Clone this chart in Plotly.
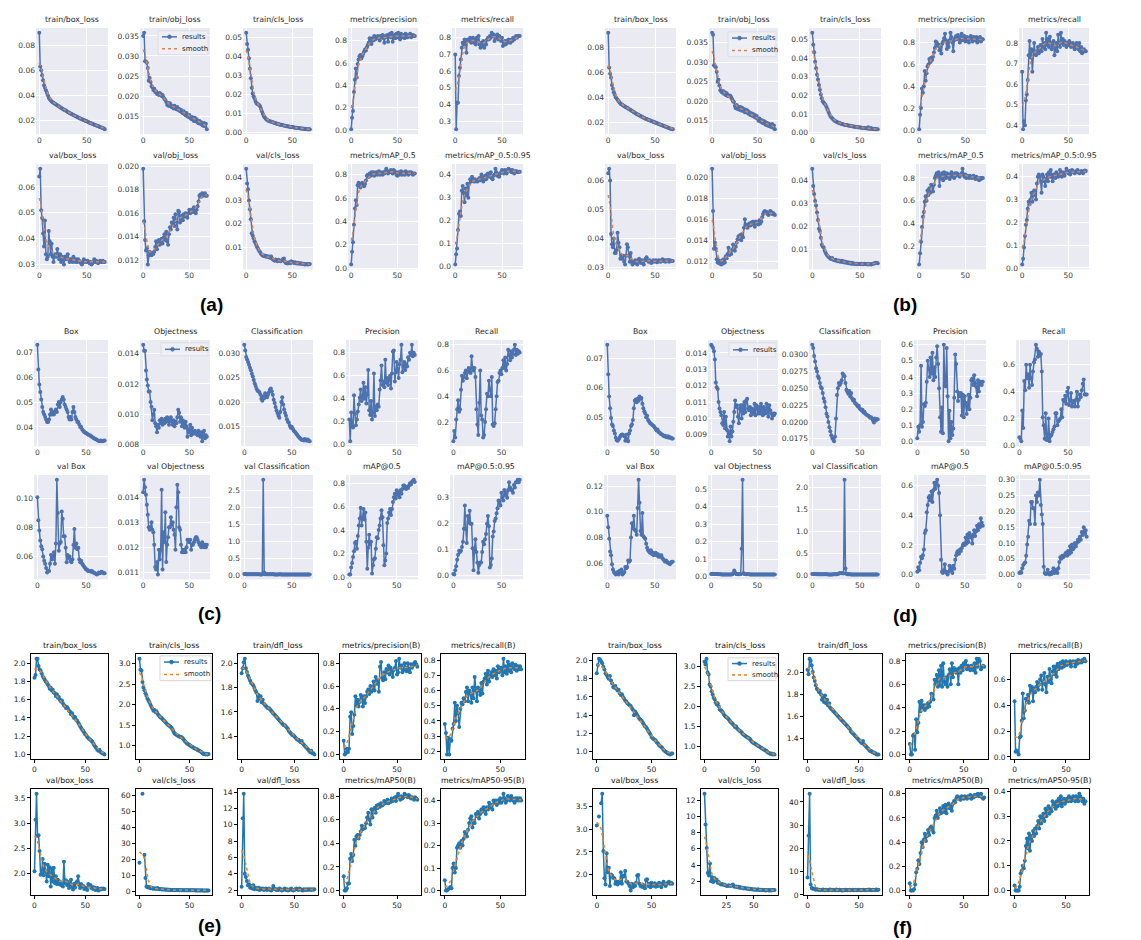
import numpy as np
import plotly.graph_objects as go

nan = float("nan")
W, H = 1141, 940

# ---------------- titles ----------------
TITLES_AB = ["train/box_loss", "train/obj_loss", "train/cls_loss", "metrics/precision", "metrics/recall",
             "val/box_loss", "val/obj_loss", "val/cls_loss", "metrics/mAP_0.5", "metrics/mAP_0.5:0.95"]
TITLES_CD = ["Box", "Objectness", "Classification", "Precision", "Recall",
             "val Box", "val Objectness", "val Classification", "mAP@0.5", "mAP@0.5:0.95"]
TITLES_EF = ["train/box_loss", "train/cls_loss", "train/dfl_loss", "metrics/precision(B)", "metrics/recall(B)",
             "val/box_loss", "val/cls_loss", "val/dfl_loss", "metrics/mAP50(B)", "metrics/mAP50-95(B)"]

# ---------------- panel (a) ----------------
A_train_box = [0.090,0.063,0.060,0.056,0.052,0.048,0.046,0.044,0.042,0.040,
0.038,0.037,0.036,0.035,0.0345,0.034,0.0335,0.033,0.0325,0.032,
0.0315,0.031,0.0305,0.030,0.0295,0.029,0.0285,0.028,0.0278,0.0272,
0.0267,0.0262,0.0258,0.0254,0.025,0.0246,0.0242,0.0238,0.0234,0.023,
0.0226,0.0222,0.0218,0.0215,0.0212,0.0208,0.0205,0.0202,0.0198,0.0195,
0.0192,0.0188,0.0185,0.0181,0.0178,0.0175,0.0172,0.0168,0.0165,0.0162,
0.0159,0.0156,0.0153,0.015,0.0147,0.0144,0.0141,0.0138,0.0135,0.0128]
A_train_obj = [0.0350,0.0358,0.0287,0.0286,0.0283,0.0270,0.0238,0.0245,0.0235,0.0225,
0.0222,0.0215,0.0218,0.0210,0.0212,0.0205,0.0207,0.0203,0.0208,0.0205,
0.0200,0.0203,0.0197,0.0193,0.0190,0.0185,0.0178,0.0183,0.0175,0.0182,
0.0178,0.0172,0.0175,0.0169,0.0176,0.0170,0.0167,0.0173,0.0165,0.0168,
0.0162,0.0166,0.0160,0.0157,0.0162,0.0155,0.0152,0.0158,0.0150,0.0148,
0.0153,0.0146,0.0143,0.0148,0.0141,0.0138,0.0146,0.0137,0.0142,0.0134,
0.0132,0.0138,0.0131,0.0135,0.0128,0.0126,0.0133,0.0125,0.0131,0.0117]
A_train_cls = [0.0525,0.0465,0.0435,0.0390,0.0335,0.0285,0.0235,0.0205,0.0190,0.0180,
0.0165,0.0155,0.0150,0.0148,0.0145,0.0138,0.0125,0.0112,0.0098,0.0088,
0.0080,0.0073,0.0068,0.0065,0.0062,0.0060,0.0058,0.0057,0.0055,0.0053,
0.0051,0.0050,0.0048,0.0046,0.0045,0.0044,0.0042,0.0041,0.0040,0.0039,
0.0038,0.0036,0.0035,0.0034,0.0033,0.0032,0.0031,0.0030,0.0029,0.0028,
0.0028,0.0027,0.0026,0.0025,0.0025,0.0024,0.0023,0.0023,0.0022,0.0021,
0.0021,0.0020,0.0019,0.0019,0.0018,0.0018,0.0017,0.0017,0.0016,0.0016]
A_precision = [0.005,0.11,0.17,0.34,0.45,0.55,0.47,0.59,0.63,0.66,
0.67,0.64,0.66,0.68,0.70,0.72,0.71,0.74,0.76,0.78,
0.82,0.80,0.77,0.82,0.80,0.84,0.81,0.83,0.82,0.84,
0.83,0.80,0.84,0.83,0.85,0.82,0.78,0.84,0.83,0.85,
0.79,0.84,0.86,0.83,0.87,0.79,0.84,0.85,0.82,0.86,
0.83,0.87,0.84,0.81,0.86,0.83,0.85,0.84,0.82,0.86,
0.84,0.83,0.85,0.84,0.86,0.83,0.84,0.85,0.84,0.84]
A_recall = [0.70,0.25,0.41,0.41,0.57,0.62,0.67,0.74,0.77,0.76,
0.79,0.78,0.71,0.79,0.78,0.79,0.80,0.77,0.78,0.80,
0.77,0.79,0.76,0.80,0.78,0.81,0.76,0.74,0.77,0.75,
0.78,0.74,0.77,0.76,0.79,0.80,0.79,0.81,0.80,0.83,
0.81,0.82,0.78,0.81,0.80,0.82,0.79,0.81,0.80,0.78,
0.80,0.75,0.77,0.78,0.76,0.78,0.77,0.79,0.78,0.77,
0.79,0.78,0.80,0.79,0.80,0.81,0.80,0.81,0.81,0.81]
A_val_box = [0.064,0.067,0.051,0.048,0.042,0.037,0.047,0.034,0.032,0.033,
0.043,0.039,0.034,0.038,0.033,0.031,0.033,0.034,0.033,0.036,
0.034,0.032,0.034,0.031,0.033,0.032,0.030,0.033,0.032,0.033,
0.034,0.032,0.031,0.032,0.032,0.031,0.033,0.032,0.031,0.032,
0.031,0.032,0.0315,0.031,0.0305,0.030,0.031,0.032,0.031,0.0315,
0.031,0.0315,0.031,0.0305,0.031,0.030,0.0305,0.031,0.032,0.031,
0.0315,0.031,0.0305,0.031,0.0315,0.031,0.031,0.0315,0.031,0.031]
A_val_obj = [0.0198,0.0153,0.0137,0.0128,0.0130,0.0116,0.0124,0.0127,0.0126,0.0124,
0.0126,0.0125,0.0127,0.0131,0.0136,0.0129,0.0135,0.0137,0.0133,0.0136,
0.0138,0.0134,0.0139,0.0142,0.0137,0.0144,0.0136,0.0133,0.0142,0.0148,
0.0146,0.0152,0.0150,0.0156,0.0149,0.0159,0.0153,0.0146,0.0162,0.0161,
0.0152,0.0156,0.0158,0.0154,0.0159,0.0157,0.0160,0.0158,0.0156,0.0160,
0.0163,0.0160,0.0161,0.0163,0.0161,0.0165,0.0162,0.0160,0.0163,0.0166,
0.0170,0.0175,0.0176,0.0174,0.0177,0.0175,0.0176,0.0177,0.0175,0.0175]
A_val_cls = [0.0435,0.0372,0.0348,0.0300,0.0262,0.0220,0.0160,0.0150,0.0138,0.0125,
0.0118,0.0110,0.0100,0.0092,0.0085,0.0080,0.0072,0.0068,0.0065,0.0063,
0.0065,0.0060,0.0062,0.0058,0.0060,0.0057,0.0055,0.0060,0.0052,0.0048,
0.0045,0.0042,0.0048,0.0044,0.0040,0.0046,0.0043,0.0040,0.0042,0.0044,
0.0050,0.0052,0.0038,0.0033,0.0035,0.0030,0.0034,0.0036,0.0032,0.0040,
0.0037,0.0035,0.0033,0.0036,0.0032,0.0030,0.0034,0.0031,0.0029,0.0032,
0.0030,0.0028,0.0029,0.0027,0.0026,0.0028,0.0027,0.0026,0.0028,0.0028]
A_map50 = [0.03,0.14,0.22,0.37,0.51,0.58,0.54,0.71,0.73,0.72,
0.69,0.71,0.73,0.72,0.70,0.72,0.75,0.79,0.80,0.78,
0.81,0.79,0.82,0.80,0.82,0.79,0.81,0.82,0.80,0.81,
0.83,0.80,0.82,0.81,0.80,0.82,0.81,0.83,0.85,0.82,
0.81,0.83,0.82,0.84,0.83,0.81,0.84,0.83,0.82,0.80,
0.79,0.82,0.80,0.81,0.83,0.80,0.82,0.81,0.80,0.83,
0.82,0.81,0.80,0.82,0.81,0.82,0.81,0.80,0.81,0.81]
A_map5095 = [0.010,0.055,0.080,0.160,0.230,0.240,0.220,0.330,0.350,0.320,
0.280,0.340,0.310,0.360,0.300,0.360,0.380,0.370,0.390,0.380,
0.370,0.380,0.370,0.375,0.370,0.380,0.385,0.375,0.400,0.390,
0.370,0.385,0.395,0.380,0.400,0.405,0.390,0.395,0.410,0.385,
0.380,0.395,0.400,0.425,0.410,0.395,0.400,0.390,0.405,0.410,
0.420,0.415,0.405,0.420,0.410,0.405,0.420,0.425,0.415,0.420,
0.410,0.420,0.415,0.405,0.410,0.415,0.410,0.412,0.410,0.412]

# ---------------- panel (b) ----------------
B_train_box = [0.092,0.064,0.059,0.056,0.050,0.047,0.044,0.042,0.040,0.039,
0.038,0.037,0.036,0.035,0.0345,0.034,0.0335,0.033,0.0325,0.032,
0.0316,0.0312,0.0307,0.0302,0.0297,0.0292,0.0287,0.0282,0.0277,0.0272,
0.0268,0.0264,0.026,0.0256,0.0252,0.0248,0.0244,0.024,0.0236,0.0232,
0.0228,0.0225,0.0222,0.0219,0.0216,0.0213,0.021,0.0207,0.0204,0.0201,
0.0198,0.0195,0.0192,0.0189,0.0186,0.0183,0.018,0.0177,0.0174,0.0171,
0.0168,0.0165,0.0162,0.0159,0.0156,0.0153,0.015,0.0147,0.0145,0.0142]
B_train_obj = [0.0375,0.0370,0.0292,0.0290,0.0287,0.0275,0.0250,0.0255,0.0240,0.0228,
0.0225,0.0222,0.0226,0.0219,0.0223,0.0216,0.0220,0.0213,0.0215,0.0212,
0.0214,0.0210,0.0205,0.0200,0.0198,0.0188,0.0182,0.0190,0.0180,0.0186,
0.0178,0.0185,0.0176,0.0183,0.0175,0.0180,0.0172,0.0178,0.0171,0.0176,
0.0168,0.0172,0.0165,0.0169,0.0163,0.0167,0.0160,0.0165,0.0158,0.0162,
0.0155,0.0150,0.0156,0.0148,0.0152,0.0145,0.0150,0.0143,0.0148,0.0140,
0.0145,0.0138,0.0143,0.0136,0.0140,0.0134,0.0142,0.0132,0.0138,0.0128]
B_train_cls = [0.0535,0.0470,0.0430,0.0380,0.0345,0.0310,0.0285,0.0255,0.0230,0.0205,
0.0185,0.0168,0.0160,0.0155,0.0148,0.0138,0.0125,0.0112,0.0100,0.0090,
0.0083,0.0077,0.0072,0.0067,0.0063,0.0060,0.0058,0.0055,0.0053,0.0051,
0.0049,0.0047,0.0046,0.0044,0.0043,0.0042,0.0041,0.0040,0.0039,0.0038,
0.0037,0.0036,0.0035,0.0034,0.0033,0.0032,0.0031,0.0031,0.0030,0.0029,
0.0028,0.0028,0.0027,0.0026,0.0026,0.0025,0.0024,0.0024,0.0023,0.0030,
0.0022,0.0021,0.0026,0.0020,0.0020,0.0019,0.0022,0.0018,0.0019,0.0018]
B_precision = [0.005,0.14,0.20,0.38,0.34,0.40,0.54,0.45,0.52,0.58,
0.60,0.65,0.62,0.66,0.64,0.67,0.71,0.75,0.81,0.80,
0.77,0.78,0.73,0.76,0.70,0.79,0.81,0.84,0.88,0.82,
0.74,0.80,0.76,0.82,0.89,0.85,0.80,0.72,0.82,0.84,
0.86,0.83,0.87,0.84,0.80,0.85,0.88,0.82,0.84,0.86,
0.81,0.83,0.85,0.82,0.80,0.84,0.86,0.83,0.81,0.85,
0.84,0.82,0.85,0.80,0.84,0.82,0.85,0.81,0.83,0.83]
B_recall = [0.66,0.38,0.42,0.40,0.52,0.55,0.62,0.74,0.81,0.73,
0.77,0.66,0.76,0.80,0.75,0.74,0.76,0.78,0.75,0.77,
0.79,0.76,0.82,0.78,0.80,0.77,0.85,0.79,0.82,0.78,
0.83,0.80,0.77,0.79,0.81,0.74,0.78,0.80,0.76,0.84,
0.80,0.78,0.85,0.80,0.82,0.79,0.81,0.80,0.78,0.80,
0.79,0.81,0.80,0.78,0.79,0.80,0.78,0.77,0.79,0.80,
0.78,0.77,0.80,0.76,0.78,0.75,0.76,0.77,0.76,0.76]
B_val_box = [0.0625,0.0640,0.0600,0.0415,0.0380,0.0370,0.0400,0.0350,0.0350,0.0360,
0.0420,0.0385,0.0370,0.0330,0.0340,0.0330,0.0340,0.0320,0.0310,0.0340,
0.0380,0.0370,0.0340,0.0320,0.0350,0.0320,0.0310,0.0320,0.0315,0.0325,
0.0320,0.0310,0.0325,0.0330,0.0320,0.0315,0.0325,0.0320,0.0310,0.0325,
0.0330,0.0335,0.0325,0.0320,0.0325,0.0320,0.0315,0.0320,0.0325,0.0320,
0.0322,0.0325,0.0318,0.0320,0.0325,0.0322,0.0320,0.0325,0.0328,0.0322,
0.0325,0.0320,0.0325,0.0322,0.0326,0.0320,0.0325,0.0323,0.0322,0.0322]
B_val_obj = [0.0208,0.0168,0.0132,0.0138,0.0132,0.0122,0.0119,0.0121,0.0118,0.0120,
0.0117,0.0121,0.0118,0.0122,0.0119,0.0125,0.0123,0.0127,0.0133,0.0126,
0.0128,0.0127,0.0131,0.0136,0.0133,0.0130,0.0134,0.0138,0.0141,0.0144,
0.0142,0.0145,0.0140,0.0146,0.0143,0.0152,0.0160,0.0155,0.0153,0.0152,
0.0155,0.0156,0.0154,0.0157,0.0155,0.0158,0.0157,0.0153,0.0158,0.0156,
0.0157,0.0155,0.0159,0.0156,0.0158,0.0162,0.0165,0.0167,0.0168,0.0166,
0.0167,0.0165,0.0164,0.0166,0.0168,0.0167,0.0165,0.0166,0.0165,0.0164]
B_val_cls = [0.0450,0.0375,0.0340,0.0310,0.0290,0.0260,0.0228,0.0190,0.0180,0.0150,
0.0120,0.0112,0.0108,0.0095,0.0085,0.0078,0.0072,0.0068,0.0065,0.0060,
0.0058,0.0062,0.0056,0.0054,0.0052,0.0055,0.0050,0.0048,0.0052,0.0047,
0.0046,0.0050,0.0045,0.0048,0.0043,0.0046,0.0042,0.0044,0.0040,0.0043,
0.0040,0.0038,0.0042,0.0037,0.0039,0.0036,0.0038,0.0035,0.0037,0.0036,
0.0038,0.0035,0.0037,0.0036,0.0035,0.0037,0.0036,0.0035,0.0036,0.0034,
0.0036,0.0035,0.0034,0.0036,0.0037,0.0039,0.0040,0.0042,0.0041,0.0040]
B_map50 = [0.04,0.14,0.24,0.37,0.46,0.50,0.59,0.64,0.60,0.69,
0.65,0.71,0.67,0.74,0.72,0.68,0.74,0.80,0.82,0.84,
0.81,0.85,0.73,0.82,0.80,0.84,0.78,0.85,0.82,0.80,
0.84,0.81,0.83,0.79,0.82,0.85,0.81,0.83,0.80,0.84,
0.82,0.84,0.83,0.82,0.81,0.83,0.84,0.88,0.83,0.81,
0.83,0.80,0.82,0.81,0.80,0.82,0.81,0.80,0.81,0.82,
0.80,0.79,0.81,0.80,0.79,0.78,0.80,0.79,0.80,0.80]
B_map5095 = [0.015,0.040,0.090,0.140,0.190,0.210,0.260,0.290,0.280,0.300,
0.330,0.290,0.330,0.340,0.320,0.300,0.370,0.400,0.410,0.400,
0.380,0.330,0.410,0.400,0.380,0.360,0.390,0.410,0.380,0.420,
0.400,0.430,0.400,0.380,0.410,0.400,0.395,0.420,0.410,0.400,
0.405,0.430,0.410,0.400,0.420,0.410,0.405,0.420,0.435,0.420,
0.415,0.425,0.410,0.420,0.430,0.425,0.420,0.415,0.420,0.425,
0.430,0.420,0.415,0.420,0.425,0.420,0.415,0.425,0.428,0.425]

# ---------------- panel (c) ----------------
C_box = [0.073,0.063,0.057,0.054,0.051,0.048,0.046,0.045,0.044,0.043,
0.042,0.042,0.043,0.045,0.047,0.045,0.046,0.045,0.046,0.047,
0.046,0.049,0.050,0.048,0.050,0.051,0.052,0.051,0.049,0.048,
0.047,0.046,0.044,0.043,0.044,0.043,0.046,0.048,0.046,0.044,
0.043,0.042,0.042,0.041,0.040,0.040,0.039,0.0385,0.038,0.0378,
0.0375,0.0373,0.037,0.0368,0.0366,0.0364,0.036,0.0358,0.0355,0.0352,
0.035,0.0348,0.0345,0.0343,0.0342,0.0345,0.0343,0.0342,0.0344,0.0345]
C_obj = [0.0146,0.0142,0.0142,0.0129,0.0123,0.0119,0.0115,0.0115,0.0108,0.0105,
0.0096,0.0100,0.0103,0.0094,0.0092,0.0088,0.0093,0.0091,0.0096,0.0094,
0.0097,0.0093,0.0096,0.0094,0.0097,0.0095,0.0098,0.0096,0.0093,0.0097,
0.0098,0.0095,0.0093,0.0096,0.0092,0.0095,0.0094,0.0098,0.0103,0.0101,
0.0095,0.0098,0.0092,0.0096,0.0093,0.0091,0.0095,0.0092,0.0085,0.0090,
0.0088,0.0093,0.0086,0.0091,0.0087,0.0088,0.0089,0.0087,0.0088,0.0086,
0.0089,0.0087,0.0085,0.0088,0.0082,0.0086,0.0089,0.0084,0.0086,0.0085]
C_cls = [0.0317,0.0305,0.0292,0.0287,0.0282,0.0276,0.0270,0.0265,0.0258,0.0252,
0.0245,0.0238,0.0233,0.0227,0.0223,0.0222,0.0220,0.0215,0.0207,0.0203,
0.0212,0.0208,0.0218,0.0214,0.0210,0.0215,0.0220,0.0225,0.0228,0.0222,
0.0215,0.0205,0.0198,0.0190,0.0183,0.0178,0.0172,0.0168,0.0180,0.0200,
0.0210,0.0195,0.0185,0.0178,0.0172,0.0165,0.0160,0.0158,0.0152,0.0148,
0.0150,0.0146,0.0142,0.0140,0.0138,0.0135,0.0133,0.0130,0.0128,0.0126,
0.0124,0.0123,0.0124,0.0122,0.0125,0.0123,0.0121,0.0124,0.0121,0.0120]
C_precision = [0.22,0.03,0.28,0.16,0.15,0.43,0.27,0.17,0.22,0.29,
0.35,0.41,0.48,0.38,0.42,0.54,0.40,0.50,0.36,0.44,
0.65,0.30,0.26,0.38,0.22,0.28,0.62,0.25,0.33,0.30,
0.35,0.33,0.48,0.56,0.69,0.52,0.55,0.50,0.74,0.54,
0.58,0.52,0.57,0.60,0.49,0.62,0.81,0.82,0.55,0.63,
0.72,0.66,0.58,0.70,0.74,0.87,0.63,0.68,0.72,0.65,
0.70,0.68,0.76,0.74,0.80,0.78,0.87,0.77,0.80,0.78]
C_recall = [0.05,0.13,0.08,0.22,0.30,0.37,0.28,0.30,0.45,0.56,
0.52,0.55,0.58,0.60,0.54,0.59,0.62,0.60,0.58,0.71,
0.62,0.60,0.62,0.55,0.30,0.18,0.10,0.35,0.60,0.25,
0.22,0.08,0.10,0.20,0.30,0.42,0.40,0.52,0.45,0.40,
0.55,0.18,0.17,0.19,0.30,0.40,0.51,0.52,0.58,0.60,
0.57,0.62,0.68,0.62,0.70,0.60,0.65,0.76,0.72,0.68,
0.75,0.70,0.73,0.76,0.80,0.72,0.76,0.73,0.75,0.74]
C_val_box = [0.101,0.085,0.078,0.071,0.067,0.065,0.060,0.057,0.055,0.052,
0.049,0.050,0.050,0.055,0.061,0.058,0.060,0.063,0.055,0.069,
0.113,0.090,0.064,0.069,0.070,0.091,0.086,0.074,0.074,0.066,
0.056,0.061,0.059,0.060,0.057,0.056,0.058,0.068,0.079,0.066,
0.069,0.065,0.066,0.058,0.056,0.057,0.055,0.054,0.053,0.052,
0.051,0.051,0.050,0.050,0.050,0.0495,0.050,0.049,0.049,0.0485,
0.048,0.0475,0.048,0.049,0.0485,0.049,0.0495,0.049,0.0485,0.0485]
C_val_obj = [0.0142,0.0147,0.0144,0.0141,0.0137,0.0133,0.0128,0.0127,0.0128,0.0130,
0.0127,0.0126,0.0121,0.0112,0.0111,0.0114,0.0109,0.0119,0.0115,0.0119,
0.0143,0.0111,0.0126,0.0122,0.0134,0.0114,0.0121,0.0124,0.0128,0.0128,
0.0132,0.0129,0.0130,0.0127,0.0125,0.0119,0.0136,0.0145,0.0142,0.0128,
0.0127,0.0121,0.0118,0.0119,0.0118,0.0119,0.0118,0.0120,0.0123,0.0123,
0.0122,0.0123,0.0119,0.0121,0.0121,0.0122,0.0123,0.0124,0.0124,0.0123,
0.0122,0.0121,0.0121,0.0120,0.0122,0.0121,0.0120,0.0121,0.0120,0.0121]
C_val_cls = [0.035,0.032,0.030,0.030,0.029,0.028,0.028,0.027,0.027,0.026,
0.026,0.025,0.025,0.025,0.024,0.024,0.024,0.023,0.023,0.025,
2.82,0.080,0.030,0.028,0.027,0.026,0.026,0.025,0.025,0.024,
0.024,0.024,0.023,0.023,0.023,0.022,0.022,0.030,0.028,0.022,
0.022,0.021,0.021,0.021,0.020,0.020,0.020,0.020,0.020,0.019,
0.019,0.019,0.019,0.019,0.018,0.018,0.018,0.018,0.018,0.018,
0.018,0.017,0.017,0.017,0.017,0.017,0.017,0.017,0.017,0.017]
C_map50 = [0.02,0.02,0.08,0.12,0.17,0.22,0.29,0.30,0.24,0.35,
0.44,0.50,0.59,0.44,0.51,0.58,0.49,0.55,0.30,0.07,
0.25,0.36,0.28,0.30,0.03,0.10,0.15,0.16,0.24,0.34,
0.33,0.40,0.44,0.50,0.57,0.51,0.27,0.10,0.14,0.20,
0.46,0.50,0.55,0.58,0.53,0.58,0.64,0.68,0.71,0.67,
0.74,0.70,0.72,0.68,0.74,0.71,0.75,0.78,0.78,0.76,
0.75,0.77,0.76,0.78,0.80,0.79,0.81,0.82,0.83,0.81]
C_map5095 = [0.005,0.003,0.020,0.035,0.060,0.080,0.095,0.090,0.095,0.110,
0.130,0.180,0.270,0.180,0.125,0.230,0.205,0.250,0.200,0.200,
0.105,0.020,0.100,0.140,0.090,0.050,0.010,0.040,0.050,0.050,
0.090,0.130,0.120,0.140,0.160,0.200,0.230,0.190,0.030,0.040,
0.065,0.150,0.170,0.210,0.220,0.240,0.260,0.290,0.280,0.270,
0.320,0.300,0.290,0.330,0.310,0.320,0.300,0.330,0.360,0.340,
0.330,0.330,0.320,0.350,0.340,0.360,0.360,0.370,0.360,0.370]

# ---------------- panel (d) ----------------
D_box = [0.0745,0.0645,0.0570,0.0530,0.0497,0.0475,0.0470,0.0455,0.0445,0.0430,
0.0422,0.0420,0.0425,0.0430,0.0437,0.0440,0.0441,0.0438,0.0435,0.0420,
0.0440,0.0425,0.0418,0.0445,0.0455,0.0470,0.0475,0.0490,0.0530,0.0555,
0.0560,0.0550,0.0562,0.0555,0.0570,0.0562,0.0565,0.0545,0.0530,0.0520,
0.0512,0.0500,0.0505,0.0490,0.0485,0.0480,0.0478,0.0475,0.0472,0.0470,
0.0465,0.0460,0.0455,0.0458,0.0450,0.0448,0.0445,0.0442,0.0440,0.0438,
0.0435,0.0437,0.0433,0.0432,0.0435,0.0430,0.0432,0.0430,0.0428,0.0428]
D_obj = [0.0145,0.0144,0.0143,0.0141,0.0136,0.0122,0.0119,0.0118,0.0110,0.0106,
0.0104,0.0102,0.0097,0.0096,0.0104,0.0094,0.0101,0.0093,0.0089,0.0092,
0.0086,0.0095,0.0089,0.0092,0.0098,0.0104,0.0111,0.0107,0.0108,0.0101,
0.0097,0.0106,0.0108,0.0100,0.0108,0.0103,0.0110,0.0104,0.0111,0.0112,
0.0106,0.0105,0.0107,0.0102,0.0106,0.0105,0.0103,0.0109,0.0102,0.0108,
0.0106,0.0103,0.0107,0.0103,0.0109,0.0105,0.0102,0.0107,0.0104,0.0103,
0.0109,0.0106,0.0101,0.0108,0.0105,0.0103,0.0100,0.0103,0.0102,0.0103]
D_cls = [0.0315,0.0310,0.0298,0.0290,0.0280,0.0275,0.0268,0.0265,0.0258,0.0252,
0.0250,0.0243,0.0235,0.0230,0.0222,0.0212,0.0208,0.0200,0.0192,0.0186,
0.0180,0.0176,0.0174,0.0171,0.0178,0.0205,0.0240,0.0250,0.0258,0.0255,
0.0258,0.0262,0.0272,0.0270,0.0268,0.0258,0.0248,0.0245,0.0242,0.0246,
0.0238,0.0243,0.0235,0.0232,0.0233,0.0228,0.0227,0.0225,0.0223,0.0224,
0.0220,0.0219,0.0217,0.0218,0.0214,0.0215,0.0212,0.0211,0.0210,0.0209,
0.0208,0.0206,0.0207,0.0205,0.0202,0.0199,0.0205,0.0202,0.0204,0.0204]
D_precision = [0.02,0.09,0.06,0.10,0.47,0.09,0.12,0.23,0.22,0.24,
0.37,0.50,0.45,0.40,0.52,0.42,0.55,0.38,0.46,0.40,
0.52,0.59,0.48,0.33,0.15,0.06,0.21,0.05,0.60,0.35,
0.34,0.58,0.28,0.00,0.19,0.02,0.12,0.04,0.08,0.27,
0.54,0.48,0.31,0.25,0.30,0.28,0.30,0.16,0.29,0.15,
0.28,0.24,0.17,0.22,0.29,0.20,0.27,0.38,0.39,0.35,
0.41,0.36,0.34,0.28,0.38,0.31,0.36,0.37,0.35,0.37]
D_recall = [0.06,0.05,0.03,0.26,0.13,0.48,0.41,0.60,0.50,0.53,
0.43,0.60,0.50,0.45,0.55,0.62,0.64,0.75,0.72,0.66,
0.70,0.67,0.68,0.55,0.21,0.15,0.05,0.24,0.04,0.05,
0.20,0.03,0.07,0.08,0.10,0.12,0.14,0.24,0.24,0.15,
0.18,0.19,0.20,0.27,0.21,0.34,0.33,0.37,0.31,0.40,
0.43,0.30,0.33,0.39,0.29,0.33,0.32,0.29,0.34,0.40,
0.29,0.34,0.38,0.36,0.41,0.46,0.49,0.38,0.38,0.38]
D_val_box = [0.097,0.088,0.079,0.069,0.066,0.059,0.055,0.053,0.052,0.051,
0.052,0.053,0.051,0.054,0.053,0.055,0.051,0.052,0.053,0.057,
0.056,0.057,0.062,0.061,0.062,0.080,0.091,0.087,0.097,0.086,
0.085,0.082,0.103,0.125,0.107,0.085,0.082,0.099,0.081,0.080,
0.079,0.075,0.072,0.070,0.069,0.068,0.070,0.067,0.068,0.066,
0.067,0.068,0.066,0.067,0.065,0.066,0.065,0.066,0.064,0.063,
0.062,0.061,0.062,0.061,0.060,0.060,0.059,0.060,0.061,0.061]
D_val_obj = [0.016,0.017,0.016,0.016,0.015,0.015,0.015,0.014,0.014,0.014,
0.014,0.013,0.013,0.013,0.013,0.013,0.013,0.013,0.013,0.013,
0.013,0.013,0.013,0.014,0.020,0.035,0.022,0.015,0.014,0.014,
0.014,0.014,0.014,0.160,0.555,0.020,0.015,0.014,0.014,0.014,
0.014,0.014,0.013,0.013,0.013,0.013,0.013,0.013,0.013,0.013,
0.013,0.013,0.013,0.013,0.012,0.012,0.012,0.012,0.012,0.012,
0.012,0.012,0.012,0.012,0.012,0.012,0.012,0.012,0.012,0.012]
D_val_cls = [0.035,0.034,0.033,0.032,0.031,0.030,0.030,0.029,0.029,0.028,
0.028,0.027,0.027,0.027,0.026,0.026,0.026,0.025,0.025,0.025,
0.025,0.025,0.026,0.026,0.027,0.028,0.030,0.035,0.045,0.050,
0.048,0.052,0.050,0.045,2.180,0.160,0.040,0.030,0.028,0.027,
0.026,0.025,0.025,0.025,0.024,0.024,0.024,0.024,0.023,0.023,
0.023,0.023,0.022,0.022,0.022,0.022,0.022,0.021,0.021,0.021,
0.021,0.021,0.021,0.020,0.020,0.020,0.020,0.020,0.020,0.020]
D_map50 = [0.02,0.05,0.03,0.08,0.12,0.11,0.13,0.17,0.28,0.30,
0.42,0.47,0.52,0.53,0.50,0.56,0.49,0.57,0.62,0.58,
0.62,0.64,0.60,0.55,0.40,0.10,0.02,0.01,0.03,0.07,
0.02,0.01,0.00,0.02,0.06,0.03,0.05,0.01,0.06,0.04,
0.10,0.13,0.15,0.16,0.14,0.17,0.16,0.18,0.20,0.21,
0.20,0.25,0.21,0.27,0.22,0.28,0.25,0.26,0.21,0.27,
0.30,0.26,0.29,0.33,0.30,0.34,0.32,0.38,0.35,0.33]
D_map5095 = [0.005,0.008,0.006,0.020,0.030,0.035,0.038,0.060,0.095,0.120,
0.170,0.160,0.230,0.230,0.210,0.210,0.160,0.250,0.230,0.260,
0.250,0.300,0.220,0.190,0.160,0.025,0.005,0.002,0.003,0.015,
0.005,0.000,0.005,0.002,0.010,0.020,0.005,0.010,0.015,0.005,
0.020,0.040,0.055,0.050,0.060,0.055,0.060,0.065,0.070,0.060,
0.075,0.065,0.090,0.070,0.095,0.080,0.085,0.100,0.090,0.100,
0.110,0.105,0.120,0.110,0.135,0.125,0.150,0.130,0.140,0.120]

# ---------------- panel (e) ----------------
E_train_box = [1.84,1.87,2.05,2.05,1.97,1.93,1.92,1.89,1.86,1.84,
1.82,1.80,1.79,1.77,1.75,1.72,1.73,1.70,1.71,1.68,
1.67,1.64,1.66,1.62,1.63,1.60,1.58,1.59,1.56,1.54,
1.53,1.51,1.52,1.50,1.48,1.47,1.44,1.45,1.42,1.40,
1.41,1.38,1.37,1.35,1.33,1.31,1.29,1.27,1.26,1.24,
1.22,1.21,1.19,1.18,1.17,1.16,1.15,1.14,1.12,1.10,
1.08,1.07,1.05,1.04,1.05,1.03,1.02,1.01,1.01,1.00]
E_train_cls = [3.12,2.85,2.83,2.55,2.42,2.35,2.28,2.22,2.15,2.10,
2.05,2.00,1.95,1.90,1.85,1.87,1.82,1.84,1.78,1.75,
1.72,1.69,1.68,1.65,1.62,1.60,1.57,1.55,1.52,1.50,
1.48,1.46,1.44,1.40,1.35,1.30,1.28,1.27,1.25,1.24,
1.22,1.22,1.21,1.19,1.16,1.12,1.10,1.07,1.05,1.03,
1.02,1.00,0.98,0.97,0.95,0.94,0.93,0.92,0.90,0.89,
0.87,0.86,0.84,0.82,0.80,0.81,0.79,0.80,0.79,0.80]
E_train_dfl = [1.92,1.96,2.01,2.04,1.96,1.93,1.90,1.88,1.86,1.84,
1.83,1.82,1.80,1.78,1.76,1.69,1.74,1.71,1.73,1.68,
1.70,1.67,1.66,1.65,1.64,1.63,1.63,1.62,1.61,1.60,
1.59,1.58,1.57,1.56,1.55,1.54,1.53,1.52,1.51,1.50,
1.49,1.49,1.48,1.47,1.46,1.44,1.43,1.42,1.41,1.41,
1.40,1.39,1.38,1.37,1.37,1.36,1.35,1.36,1.34,1.33,
1.32,1.31,1.30,1.29,1.28,1.27,1.28,1.26,1.26,1.25]
E_precision = [0.12,0.00,0.01,0.05,0.02,0.05,0.33,0.37,0.18,0.25,
0.35,0.51,0.43,0.48,0.42,0.46,0.52,0.50,0.42,0.51,
0.45,0.51,0.55,0.57,0.53,0.60,0.55,0.58,0.64,0.56,
0.68,0.62,0.65,0.55,0.77,0.81,0.67,0.65,0.72,0.66,
0.75,0.72,0.78,0.70,0.76,0.73,0.68,0.74,0.76,0.82,
0.70,0.72,0.84,0.76,0.78,0.72,0.74,0.80,0.76,0.73,
0.80,0.75,0.72,0.79,0.76,0.78,0.80,0.81,0.79,0.77]
E_recall = [0.38,0.32,0.18,0.29,0.18,0.28,0.27,0.35,0.38,0.52,
0.40,0.50,0.45,0.36,0.48,0.52,0.51,0.55,0.53,0.59,
0.62,0.53,0.60,0.58,0.52,0.62,0.55,0.69,0.60,0.53,
0.62,0.60,0.57,0.65,0.58,0.66,0.68,0.71,0.64,0.73,
0.66,0.70,0.72,0.69,0.74,0.70,0.73,0.68,0.76,0.72,
0.74,0.75,0.70,0.81,0.72,0.76,0.71,0.79,0.73,0.77,
0.72,0.78,0.75,0.74,0.77,0.73,0.76,0.74,0.76,0.74]
E_val_box = [2.05,3.07,3.58,2.75,2.76,2.45,1.98,2.00,2.29,1.97,
2.20,2.05,1.85,2.18,1.95,2.13,1.75,2.10,1.85,2.12,
1.82,1.95,1.80,1.88,1.80,1.85,1.78,1.80,1.75,2.24,
1.82,1.87,1.78,1.84,1.72,1.79,1.88,1.74,1.69,1.80,
1.73,1.82,1.85,1.95,1.78,1.72,1.80,1.75,1.76,1.70,
1.73,1.71,1.68,1.80,1.77,1.78,1.72,1.74,1.70,1.73,
1.68,1.70,1.72,1.67,1.70,1.69,1.71,1.70,1.71,1.70]
E_val_cls = [18.0,nan,nan,61.0,nan,23.0,8.5,3.2,2.8,2.6,
2.9,2.2,2.4,2.0,1.9,2.1,1.8,1.7,2.3,1.6,
1.5,1.6,1.4,1.5,1.3,1.4,1.3,1.2,1.3,1.2,
1.1,1.2,1.1,1.1,1.0,1.1,1.0,1.0,1.1,1.0,
0.95,1.0,0.95,0.9,0.95,0.9,0.9,0.95,0.9,0.9,
0.85,0.9,0.85,0.85,0.9,0.85,0.8,0.85,0.8,0.85,
0.8,0.8,0.85,0.8,0.8,0.8,0.75,0.8,0.8,0.8]
E_val_dfl = [2.4,10.8,13.8,4.0,3.6,3.1,2.6,2.7,2.3,2.5,
2.2,2.6,2.1,2.3,2.2,2.1,2.3,2.0,2.2,2.1,
2.2,2.0,2.1,2.2,2.0,2.1,2.2,2.0,1.95,2.1,
2.5,2.2,2.1,2.0,2.1,2.0,2.2,2.1,1.95,2.0,
2.1,2.2,2.0,2.1,1.95,2.0,2.1,2.2,2.0,1.95,
2.0,2.1,2.2,2.1,2.0,2.2,2.1,2.0,1.95,2.1,
2.0,2.1,2.0,2.1,2.05,2.1,2.0,2.1,2.05,2.1]
E_map50 = [0.12,0.00,0.00,0.02,0.06,0.06,0.27,0.31,0.25,0.30,
0.43,0.38,0.46,0.47,0.44,0.47,0.50,0.55,0.52,0.54,
0.53,0.57,0.62,0.66,0.60,0.56,0.69,0.62,0.68,0.70,
0.66,0.72,0.70,0.73,0.71,0.74,0.72,0.73,0.76,0.74,
0.75,0.77,0.74,0.76,0.75,0.78,0.76,0.77,0.79,0.76,
0.80,0.82,0.79,0.77,0.80,0.78,0.79,0.82,0.81,0.80,
0.79,0.81,0.80,0.78,0.79,0.78,0.77,0.79,0.78,0.77]
E_map5095 = [0.045,0.000,0.000,0.005,0.010,0.015,0.010,0.100,0.120,0.080,
0.100,0.190,0.200,0.210,0.190,0.220,0.200,0.230,0.260,0.250,
0.240,0.270,0.300,0.320,0.330,0.280,0.310,0.300,0.340,0.330,
0.350,0.320,0.340,0.360,0.350,0.370,0.360,0.340,0.370,0.360,
0.390,0.370,0.380,0.360,0.400,0.390,0.400,0.380,0.400,0.390,
0.410,0.390,0.400,0.430,0.410,0.390,0.400,0.420,0.410,0.400,
0.420,0.410,0.400,0.390,0.410,0.400,0.410,0.400,0.410,0.400]

# ---------------- panel (f) ----------------
F_train_box = [1.86,1.95,2.02,2.01,1.99,1.97,1.93,1.90,1.86,1.84,
1.82,1.80,1.83,1.78,1.75,1.71,1.70,1.72,1.69,1.67,
1.68,1.64,1.62,1.63,1.60,1.58,1.56,1.55,1.53,1.52,
1.51,1.50,1.48,1.46,1.40,1.44,1.42,1.40,1.38,1.36,
1.35,1.34,1.32,1.30,1.28,1.27,1.25,1.23,1.21,1.19,
1.16,1.15,1.14,1.13,1.12,1.10,1.09,1.07,1.06,1.05,
1.04,1.02,1.01,1.00,0.99,0.98,0.98,0.97,0.98,0.98]
F_train_cls = [3.12,3.05,3.20,2.85,2.80,2.55,2.50,2.38,2.30,2.22,
2.18,2.10,2.05,2.08,2.00,1.92,1.90,1.88,1.85,1.80,
1.76,1.74,1.72,1.70,1.67,1.63,1.60,1.58,1.55,1.52,
1.48,1.50,1.45,1.42,1.40,1.38,1.36,1.33,1.30,1.28,
1.26,1.24,1.22,1.21,1.19,1.17,1.13,1.10,1.08,1.07,
1.05,1.04,1.02,1.00,0.99,0.97,0.95,0.94,0.92,0.91,
0.89,0.88,0.85,0.83,0.82,0.80,0.81,0.79,0.80,0.79]
F_train_dfl = [2.02,1.98,2.12,2.10,2.06,2.00,1.95,1.92,1.88,1.85,
1.84,1.82,1.83,1.80,1.75,1.78,1.73,1.79,1.72,1.75,
1.70,1.72,1.68,1.67,1.66,1.65,1.64,1.63,1.62,1.61,
1.60,1.59,1.58,1.57,1.56,1.55,1.54,1.53,1.52,1.51,
1.50,1.49,1.47,1.46,1.45,1.44,1.43,1.42,1.41,1.40,
1.39,1.38,1.37,1.36,1.38,1.35,1.34,1.33,1.32,1.31,
1.30,1.29,1.29,1.28,1.28,1.27,1.27,1.26,1.26,1.26]
F_precision = [0.09,0.00,0.00,0.16,0.17,0.04,0.30,0.19,0.27,0.45,
0.37,0.46,0.40,0.42,0.38,0.42,0.40,0.44,0.41,0.45,
0.52,0.51,0.47,0.64,0.60,0.68,0.58,0.72,0.59,0.76,
0.58,0.78,0.62,0.60,0.66,0.58,0.68,0.73,0.60,0.78,
0.66,0.74,0.72,0.70,0.73,0.60,0.74,0.70,0.76,0.72,
0.78,0.75,0.80,0.73,0.76,0.74,0.72,0.76,0.74,0.72,
0.78,0.70,0.82,0.75,0.82,0.80,0.73,0.75,0.76,0.75]
F_recall = [0.43,0.04,0.05,0.04,0.02,0.15,0.16,0.28,0.49,0.30,
0.36,0.45,0.44,0.48,0.42,0.55,0.50,0.54,0.43,0.53,
0.50,0.54,0.58,0.52,0.56,0.60,0.63,0.52,0.58,0.65,
0.56,0.50,0.62,0.58,0.68,0.60,0.57,0.66,0.70,0.64,
0.70,0.62,0.72,0.68,0.70,0.73,0.69,0.74,0.70,0.72,
0.74,0.71,0.73,0.72,0.74,0.70,0.73,0.74,0.73,0.70,
0.74,0.72,0.75,0.73,0.74,0.73,0.75,0.74,0.76,0.74]
F_val_box = [3.08,nan,3.28,nan,3.57,3.78,2.52,1.92,1.78,2.47,
2.05,2.15,1.75,2.00,1.98,1.93,1.92,1.80,1.85,1.78,
1.84,1.82,2.05,1.80,1.98,1.96,2.08,1.85,1.84,1.80,
1.75,1.65,1.80,1.72,1.78,1.75,1.82,1.98,1.99,1.80,
1.75,1.73,1.78,1.72,1.70,1.88,1.90,1.75,1.80,1.72,
1.82,1.75,1.78,1.81,1.73,1.78,1.75,1.82,1.78,1.72,
1.80,1.84,1.78,1.75,1.80,1.82,1.84,1.80,1.82,1.80]
F_val_cls = [nan,nan,nan,nan,nan,12.8,9.0,6.1,3.0,2.7,
4.2,2.0,2.5,1.9,2.4,2.1,2.2,1.8,1.9,1.7,
1.6,1.65,1.55,1.6,1.5,1.45,1.4,1.5,1.45,1.4,
1.5,1.6,1.35,1.3,1.35,1.25,1.3,1.2,1.25,1.15,
1.2,1.1,1.15,1.1,1.05,1.1,1.0,1.05,1.0,1.0,
0.95,1.0,0.95,0.95,1.0,0.9,0.95,0.9,0.95,0.9,
0.9,0.85,0.9,0.9,0.85,0.9,0.85,0.9,0.9,0.9]
F_val_dfl = [7.5,25.5,43.5,4.5,3.0,2.6,2.8,2.5,2.2,2.4,
2.3,2.1,2.2,2.0,2.1,2.3,2.1,2.0,2.2,2.1,
2.0,2.2,2.3,2.1,2.0,2.2,2.1,2.0,2.3,2.1,
2.0,2.2,2.1,2.0,1.9,2.1,2.0,2.2,2.1,2.0,
2.1,2.2,2.0,2.1,2.2,2.0,2.1,2.2,2.0,2.1,
2.2,2.1,2.0,2.1,2.2,2.1,2.0,2.1,2.2,2.1,
2.3,2.1,2.0,2.2,2.1,2.0,2.2,2.3,2.1,2.2]
F_map50 = [0.06,0.00,0.00,0.00,0.01,0.05,0.15,0.18,0.25,0.22,
0.31,0.40,0.36,0.42,0.47,0.41,0.45,0.50,0.46,0.52,
0.53,0.50,0.48,0.60,0.62,0.66,0.60,0.63,0.68,0.64,
0.66,0.70,0.65,0.71,0.64,0.70,0.72,0.68,0.70,0.66,
0.72,0.74,0.73,0.76,0.78,0.76,0.77,0.75,0.78,0.77,
0.76,0.78,0.77,0.76,0.78,0.77,0.79,0.76,0.78,0.77,
0.79,0.78,0.79,0.80,0.78,0.79,0.80,0.77,0.76,0.77]
F_map5095 = [0.020,0.000,0.000,0.000,0.000,0.015,0.070,0.080,0.100,0.090,
0.120,0.180,0.210,0.170,0.230,0.160,0.220,0.200,0.240,0.220,
0.250,0.230,0.260,0.280,0.250,0.300,0.270,0.290,0.310,0.280,
0.330,0.300,0.320,0.340,0.310,0.330,0.320,0.360,0.340,0.350,
0.330,0.360,0.340,0.370,0.350,0.380,0.340,0.360,0.370,0.350,
0.360,0.370,0.360,0.380,0.370,0.360,0.370,0.380,0.370,0.360,
0.380,0.370,0.360,0.390,0.380,0.370,0.360,0.370,0.350,0.360]

# ---------------- y tick labels ----------------
YT_A = [["0.02","0.04","0.06","0.08"], ["0.015","0.020","0.025","0.030","0.035"],
        ["0.00","0.01","0.02","0.03","0.04","0.05"], ["0.0","0.2","0.4","0.6","0.8"],
        ["0.3","0.4","0.5","0.6","0.7","0.8"], ["0.03","0.04","0.05","0.06"],
        ["0.012","0.014","0.016","0.018","0.020"], ["0.01","0.02","0.03","0.04"],
        ["0.0","0.2","0.4","0.6","0.8"], ["0.0","0.1","0.2","0.3","0.4"]]
YT_B = [["0.02","0.04","0.06","0.08"], ["0.015","0.020","0.025","0.030","0.035"],
        ["0.00","0.01","0.02","0.03","0.04","0.05"], ["0.0","0.2","0.4","0.6","0.8"],
        ["0.4","0.5","0.6","0.7","0.8"], ["0.03","0.04","0.05","0.06"],
        ["0.012","0.014","0.016","0.018","0.020"], ["0.01","0.02","0.03","0.04"],
        ["0.2","0.4","0.6","0.8"], ["0.0","0.1","0.2","0.3","0.4"]]
YT_C = [["0.04","0.05","0.06","0.07"], ["0.008","0.010","0.012","0.014"],
        ["0.015","0.020","0.025","0.030"], ["0.0","0.2","0.4","0.6","0.8"],
        ["0.2","0.4","0.6","0.8"], ["0.06","0.08","0.10"],
        ["0.011","0.012","0.013","0.014"], ["0.0","0.5","1.0","1.5","2.0","2.5"],
        ["0.0","0.2","0.4","0.6","0.8"], ["0.0","0.1","0.2","0.3"]]
YT_D = [["0.05","0.06","0.07"], ["0.009","0.010","0.011","0.012","0.013","0.014"],
        ["0.0175","0.0200","0.0225","0.0250","0.0275","0.0300"], ["0.0","0.1","0.2","0.3","0.4","0.5","0.6"],
        ["0.0","0.2","0.4","0.6"], ["0.06","0.08","0.10","0.12"],
        ["0.0","0.1","0.2","0.3","0.4","0.5"], ["0.0","0.5","1.0","1.5","2.0"],
        ["0.0","0.2","0.4","0.6"], ["0.00","0.05","0.10","0.15","0.20","0.25","0.30"]]
YT_E = [["1.0","1.2","1.4","1.6","1.8","2.0"], ["1.0","1.5","2.0","2.5","3.0"],
        ["1.4","1.6","1.8","2.0"], ["0.0","0.2","0.4","0.6","0.8"],
        ["0.2","0.3","0.4","0.5","0.6","0.7","0.8"], ["2.0","2.5","3.0","3.5"],
        ["0","10","20","30","40","50","60"], ["2","4","6","8","10","12","14"],
        ["0.0","0.2","0.4","0.6","0.8"], ["0.0","0.1","0.2","0.3","0.4"]]
YT_F = [["1.0","1.2","1.4","1.6","1.8","2.0"], ["1.0","1.5","2.0","2.5","3.0"],
        ["1.4","1.6","1.8","2.0"], ["0.0","0.2","0.4","0.6","0.8"],
        ["0.0","0.2","0.4","0.6"], ["2.0","2.5","3.0","3.5"],
        ["2","4","6","8","10","12"], ["0","10","20","30","40"],
        ["0.0","0.2","0.4","0.6","0.8"], ["0.0","0.1","0.2","0.3","0.4"]]

PANELS = [
    dict(key="a", series=[A_train_box, A_train_obj, A_train_cls, A_precision, A_recall,
                          A_val_box, A_val_obj, A_val_cls, A_map50, A_map5095],
         titles=TITLES_AB, yticks=YT_A, mpl=False, smooth=True, label="(a)"),
    dict(key="b", series=[B_train_box, B_train_obj, B_train_cls, B_precision, B_recall,
                          B_val_box, B_val_obj, B_val_cls, B_map50, B_map5095],
         titles=TITLES_AB, yticks=YT_B, mpl=False, smooth=True, label="(b)"),
    dict(key="c", series=[C_box, C_obj, C_cls, C_precision, C_recall,
                          C_val_box, C_val_obj, C_val_cls, C_map50, C_map5095],
         titles=TITLES_CD, yticks=YT_C, mpl=False, smooth=False, label="(c)"),
    dict(key="d", series=[D_box, D_obj, D_cls, D_precision, D_recall,
                          D_val_box, D_val_obj, D_val_cls, D_map50, D_map5095],
         titles=TITLES_CD, yticks=YT_D, mpl=False, smooth=False, label="(d)"),
    dict(key="e", series=[E_train_box, E_train_cls, E_train_dfl, E_precision, E_recall,
                          E_val_box, E_val_cls, E_val_dfl, E_map50, E_map5095],
         titles=TITLES_EF, yticks=YT_E, mpl=True, smooth=True, label="(e)"),
    dict(key="f", series=[F_train_box, F_train_cls, F_train_dfl, F_precision, F_recall,
                          F_val_box, F_val_cls, F_val_dfl, F_map50, F_map5095],
         titles=TITLES_EF, yticks=YT_F, mpl=True, smooth=True, label="(f)"),
]

# ---------------- geometry (pixels) ----------------
GEOM = {
    "a": ([(28, 100), (132, 202), (235, 305), (340, 410), (444, 515)], [(18, 125), (155, 261)]),
    "b": ([(597, 668), (701, 770), (801, 873), (908, 978), (1011, 1081)], [(18, 125), (155, 261)]),
    "c": ([(26, 100), (132, 202), (233, 305), (338, 410), (442, 515)], [(332, 439), (468, 573)]),
    "d": ([(596, 668), (700, 770), (801, 873), (906, 978), (1008, 1082)], [(332, 439), (468, 573)]),
    "e": ([(23, 100), (128, 204), (230, 310), (332, 413), (433, 517)], [(648, 754), (784, 891)]),
    "f": ([(585, 668), (693, 770), (796, 874), (898, 980), (1003, 1081)], [(648, 754), (784, 891)]),
}
LABEL_POS = {"a": (204, 296), "b": (897, 296), "c": (201, 607), "d": (897, 609), "e": (201, 921), "f": (894, 923)}
# legend boxes: left, top, right, bottom (pixels)
LEGEND_BOX = {"a": (150, 21, 200, 45), "b": (720, 22, 768, 47), "c": (153, 335, 200, 348),
              "d": (721, 335, 768, 349), "e": (152, 650, 203, 675), "f": (720, 652, 768, 675)}


def gsmooth(y, sigma=3.0):
    y = np.asarray(y, float)
    m = np.isfinite(y)
    v = y[m]
    r = int(4 * sigma + 0.5)
    k = np.exp(-0.5 * (np.arange(-r, r + 1) / sigma) ** 2)
    k /= k.sum()
    pad = np.pad(v, r, mode="symmetric")
    s = np.convolve(pad, k, mode="valid")
    out = np.full_like(y, np.nan)
    out[m] = s
    return out


def px(xp):
    return xp / W


def py(yp):
    return 1 - yp / H


fig = go.Figure()
layout = dict(width=W, height=H, margin=dict(l=0, r=0, t=0, b=0),
              paper_bgcolor="white", plot_bgcolor="#EAEAF2", showlegend=False)
shapes, annotations = [], []

n = 0
for pi, p in enumerate(PANELS):
    cols, rows = GEOM[p["key"]]
    mpl = p["mpl"]
    blue = "#1f77b4" if mpl else "#4C72B0"
    orange = "#ff7f0e" if mpl else "#DD8452"
    txtc = "#222222" if mpl else "#3a3a3a"
    for k in range(10):
        n += 1
        r, c = divmod(k, 5)
        x0, x1 = cols[c]
        y0, y1 = rows[r]
        sfx = "" if n == 1 else str(n)
        xr, yr = "x" + sfx, "y" + sfx
        y = np.array(p["series"][k], float)
        x = np.arange(len(y))
        fin = np.isfinite(y)
        fig.add_trace(go.Scatter(
            x=x, y=y, mode="lines+markers", name="results", xaxis=xr, yaxis=yr,
            line=dict(color=blue, width=1.5), marker=dict(color=blue, size=4),
            connectgaps=False, hoverinfo="skip"))
        if p["smooth"]:
            sm = gsmooth(y)
            fig.add_trace(go.Scatter(
                x=x[fin], y=sm[fin], mode="lines", name="smooth", xaxis=xr, yaxis=yr,
                line=dict(color=orange, width=1.5, dash="dot"), hoverinfo="skip"))
        ymin, ymax = np.nanmin(y), np.nanmax(y)
        ypad = 0.05 * (ymax - ymin)
        xmin, xmax = x[fin].min(), x[fin].max()
        xpad = 0.05 * (xmax - xmin)
        lo, hi = xmin - xpad, xmax + xpad
        xt = [t for t in (0, 50) if lo <= t <= hi]
        if len(xt) < 2:
            xt = [t for t in (25, 50) if lo <= t <= hi]
        ytt = p["yticks"][k]
        axfont = dict(family="DejaVu Sans", size=7.5, color=txtc)
        common = dict(zeroline=False, tickfont=axfont, fixedrange=True)
        if mpl:
            common.update(showgrid=False, showline=True, mirror=True, linecolor="black",
                          linewidth=0.8, ticks="outside", ticklen=3, tickwidth=0.8, tickcolor="black")
        else:
            common.update(showgrid=True, gridcolor="white", gridwidth=1, showline=False, ticks="")
        layout["xaxis" + sfx] = dict(domain=[px(x0), px(x1)], anchor=yr, range=[lo, hi],
                                     tickvals=xt, ticktext=[str(t) for t in xt], **common)
        layout["yaxis" + sfx] = dict(domain=[py(y1), py(y0)], anchor=xr,
                                     range=[ymin - ypad, ymax + ypad],
                                     tickvals=[float(t) for t in ytt], ticktext=ytt, **common)
        if mpl:
            shapes.append(dict(type="rect", xref=xr + " domain", yref=yr + " domain",
                               x0=0, x1=1, y0=0, y1=1, fillcolor="white",
                               line=dict(width=0), layer="below"))
        annotations.append(dict(text=p["titles"][k], x=px((x0 + x1) / 2), y=py(y0 - 2),
                                xref="paper", yref="paper", xanchor="center", yanchor="bottom",
                                showarrow=False,
                                font=dict(family="DejaVu Sans", size=7.8,
                                          color="#111111" if mpl else "#262626")))

    # ----- legend drawn in the second subplot of the panel -----
    bl, bt, br, bb = LEGEND_BOX[p["key"]]
    shapes.append(dict(type="rect", xref="paper", yref="paper",
                       x0=px(bl), x1=px(br), y0=py(bb), y1=py(bt),
                       fillcolor="rgba(255,255,255,0.85)" if mpl else "rgba(238,238,245,0.9)",
                       line=dict(color="#cccccc" if mpl else "#d9d9e3", width=0.8), layer="above"))
    names = ["results", "smooth"] if p["smooth"] else ["results"]
    nrow = len(names)
    for j, nm in enumerate(names):
        ry = bt + (bb - bt) * (j + 0.5) / nrow
        lx0, lx1 = bl + 4, bl + 19
        if nm == "results":
            shapes.append(dict(type="line", xref="paper", yref="paper",
                               x0=px(lx0), x1=px(lx1), y0=py(ry), y1=py(ry),
                               line=dict(color=blue, width=1.5), layer="above"))
            cx = (lx0 + lx1) / 2
            shapes.append(dict(type="circle", xref="paper", yref="paper",
                               x0=px(cx - 2), x1=px(cx + 2), y0=py(ry + 2), y1=py(ry - 2),
                               fillcolor=blue, line=dict(color=blue, width=0.5), layer="above"))
        else:
            shapes.append(dict(type="line", xref="paper", yref="paper",
                               x0=px(lx0), x1=px(lx1), y0=py(ry), y1=py(ry),
                               line=dict(color=orange, width=1.5, dash="dot"), layer="above"))
        annotations.append(dict(text=nm, x=px(lx1 + 3), y=py(ry), xref="paper", yref="paper",
                                xanchor="left", yanchor="middle", showarrow=False,
                                font=dict(family="DejaVu Sans", size=7, color="#262626")))

    lpx, lpy = LABEL_POS[p["key"]]
    annotations.append(dict(text="<b>" + p["label"] + "</b>", x=px(lpx), y=py(lpy),
                            xref="paper", yref="paper", xanchor="center", yanchor="middle",
                            showarrow=False,
                            font=dict(family="Liberation Sans", size=19, color="black")))

layout["shapes"] = shapes
layout["annotations"] = annotations
fig.update_layout(**layout)
fig.write_html("out.html", config={"displayModeBar": False})
